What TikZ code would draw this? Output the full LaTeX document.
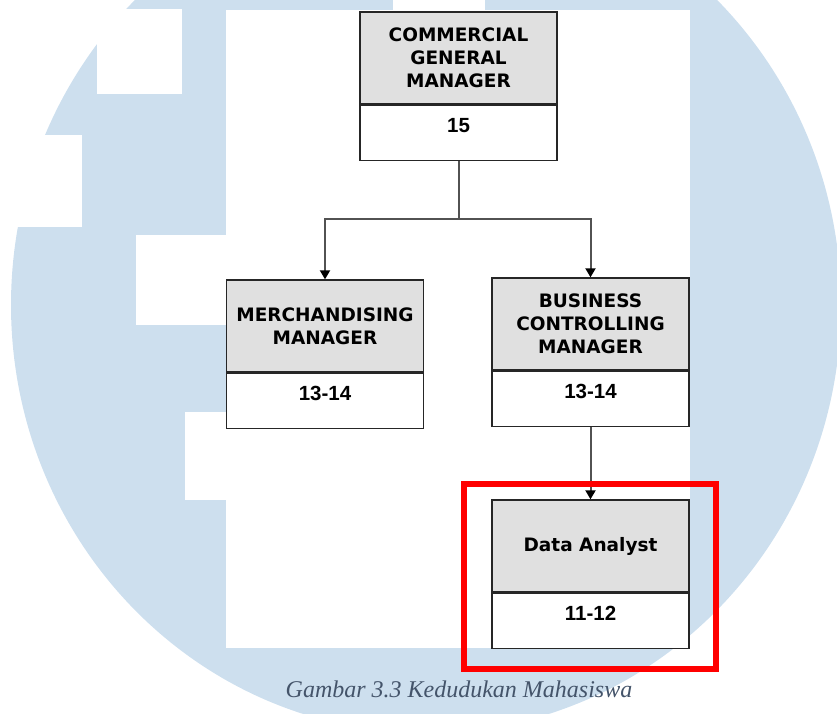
\documentclass[tikz,border=0pt]{standalone}
\usepackage{fontspec}
\newfontfamily\boxfont{DejaVu Sans}
\newfontfamily\numfont{Liberation Sans}
\newfontfamily\capfont{Liberation Serif}
\usetikzlibrary{positioning,arrows.meta}
\definecolor{logoblue}{RGB}{205,223,238}
\definecolor{headgray}{RGB}{224,224,224}
\definecolor{captext}{RGB}{68,84,106}

\begin{document}
\begin{tikzpicture}[x=1pt, y=-1pt,
    head/.style={draw=black!85, fill=headgray, line width=1.4pt, minimum width=197pt,
        minimum height=92pt, inner sep=0pt, align=center,
        font=\boxfont\bfseries\fontsize{18.5}{23}\selectfont},
    grade/.style={draw=black!85, fill=white, line width=1.4pt, minimum width=197pt,
        minimum height=55pt, inner sep=0pt, text height=14.6pt, text depth=16pt,
        font=\numfont\bfseries\fontsize{20.5}{24}\selectfont},
    link/.style={draw=black!68, line width=2pt},
    tip/.style={-{Triangle[length=9pt, width=10pt, color=black]}}
]
\useasboundingbox (0,0) rectangle (837,713);

% watermark
\begin{scope}
  \clip (0,0) rectangle (837,713);
  \fill[logoblue] (426,305) ellipse [x radius=415, y radius=428];
  \fill[white] (97,9) rectangle (182,94);
  \fill[white] (0,135) rectangle (82,227);
  \fill[white] (136,235) rectangle (226,325);
  \fill[white] (185,412) rectangle (226,500);
  \fill[white] (393,0) rectangle (485,10);
  \fill[white] (226,10) rectangle (690,648);
\end{scope}

% boxes
\node[head] (cgm) at (458.5, 58) {COMMERCIAL\\GENERAL\\MANAGER};
\node[grade, below=0pt of cgm] (cgmN) {15};

\node[head] (mm) at (325, 326) {MERCHANDISING\\MANAGER};
\node[grade, below=0pt of mm] (mmN) {13-14};

\node[head] (bcm) at (590.5, 324) {BUSINESS\\CONTROLLING\\MANAGER};
\node[grade, below=0pt of bcm] (bcmN) {13-14};

\node[head] (da) at (590.5, 546) {Data Analyst};
\node[grade, below=0pt of da] (daN) {11-12};

% connectors
\coordinate (split) at (458.5, 219);
\draw[link] (cgmN.south) -- (split);
\draw[link, tip] (split) -| (mm.north);
\draw[link, tip] (split) -| (bcm.north);
\draw[link, tip] (bcmN.south) -- (da.north);

% highlight
\draw[red, line width=5.8pt] ([shift={(-27.5,-15)}]da.north west) rectangle ([shift={(26,20)}]daN.south east);

\node[anchor=base, text=captext, font=\capfont\itshape\fontsize{24}{28}\selectfont] (caption) at (459, 697) {Gambar 3.3 Kedudukan Mahasiswa};
\end{tikzpicture}
\end{document}
